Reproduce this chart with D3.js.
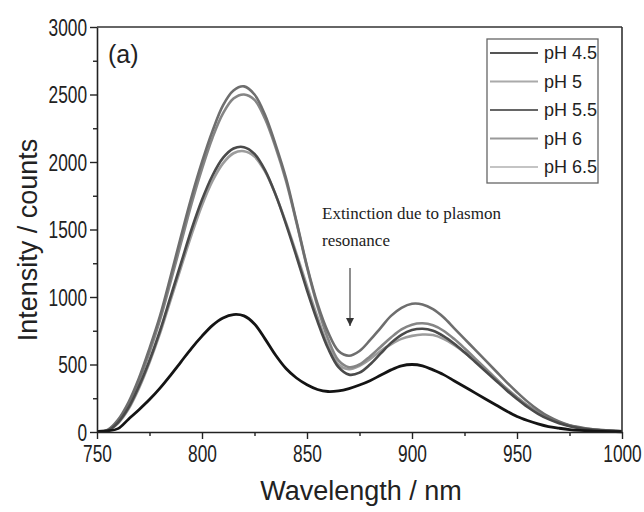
<!DOCTYPE html>
<html><head><meta charset="utf-8">
<script src="https://cdn.jsdelivr.net/npm/d3@7/dist/d3.min.js"></script>
<style>html,body{margin:0;padding:0;background:#fff;}svg{display:block;}</style>
</head><body>
<svg id="c" width="644" height="512"></svg>
<script>
const wavelengths = d3.range(750, 1001, 5);
const seriesNames = ["pH 4.5", "pH 5", "pH 5.5", "pH 6", "pH 6.5"];
const pH45 = [5,8,25,95,165,240,325,420,520,620,710,790,845,870,860,800,690,570,470,400,350,315,300,305,322,348,380,420,460,490,500,490,460,425,380,335,290,245,200,155,115,85,60,40,28,18,12,8,5,3,2];
const pH5 = [5,15,90,220,400,620,860,1150,1450,1740,2000,2230,2420,2530,2560,2500,2350,2130,1880,1560,1230,950,740,600,565,600,680,770,860,920,950,945,910,850,770,690,610,530,450,370,295,225,165,115,78,50,35,22,14,9,6];
const pH55 = [4,10,70,180,340,530,750,1000,1250,1500,1720,1900,2030,2100,2110,2060,1940,1760,1540,1300,1050,820,620,480,425,440,500,580,660,720,755,765,750,710,655,590,520,450,380,310,245,185,135,95,65,43,28,18,12,8,5];
const pH6 = [5,12,80,200,380,590,830,1110,1400,1690,1950,2180,2360,2470,2500,2460,2320,2110,1860,1550,1220,930,690,530,480,500,560,630,700,760,795,805,790,750,690,620,545,470,395,320,255,195,145,102,70,46,30,20,13,8,5];
const pH65 = [4,10,65,170,325,515,730,975,1220,1460,1680,1860,1990,2065,2080,2040,1930,1760,1550,1320,1080,850,640,500,465,490,540,600,650,690,712,722,718,690,645,590,525,458,390,322,258,198,148,105,72,48,32,21,14,9,6];
const xTicks = [750, 800, 850, 900, 950, 1000];
const yTicks = [0, 500, 1000, 1500, 2000, 2500, 3000];

const seriesValues = {"pH 4.5": pH45, "pH 5": pH5, "pH 5.5": pH55, "pH 6": pH6, "pH 6.5": pH65};
const curveColor = {"pH 4.5": "#141414", "pH 5": "#6e6e6e", "pH 5.5": "#4a4a4a", "pH 6": "#858585", "pH 6.5": "#9c9c9c"};
const legendColor = {"pH 4.5": "#555", "pH 5": "#aaa", "pH 5.5": "#666", "pH 6": "#999", "pH 6.5": "#c4c4c4"};
const drawOrder = ["pH 6.5", "pH 6", "pH 5", "pH 5.5", "pH 4.5"];

const L = 97, R = 622, T = 27, B = 432;
const svg = d3.select("#c");
const x = d3.scaleLinear().domain([750, 1000]).range([L, R]);
const y = d3.scaleLinear().domain([0, 3000]).range([B, T]);

const line = d3.line().x((d, i) => x(wavelengths[i])).y(d => y(d)).curve(d3.curveCatmullRom);
drawOrder.forEach(n => {
  svg.append("path").attr("d", line(seriesValues[n])).attr("fill", "none")
    .attr("stroke", curveColor[n]).attr("stroke-width", n === "pH 4.5" ? 2.8 : 2.6).attr("stroke-linejoin", "round");
});

const sx = 0.72;
const fmt = d3.format("d");
// x axis
const gx = svg.append("g").attr("transform", `translate(0,${B})`);
gx.call(d3.axisBottom(x).tickValues(d3.range(775, 1000, 50)).tickSize(4).tickFormat(""));
gx.call(g => g.select(".domain").remove());
const gx2 = svg.append("g").attr("transform", `translate(0,${B})`);
gx2.call(d3.axisBottom(x).tickValues(xTicks).tickFormat(fmt).tickSize(7).tickSizeOuter(0));
gx2.selectAll("text").attr("font-size", 24).attr("font-family", "Liberation Sans, Arial, sans-serif")
  .attr("fill", "#222").attr("transform", `scale(${sx},1)`).attr("dy", "0.72em").attr("y", 13);
gx2.select(".domain").attr("stroke", "#222").attr("stroke-width", 1.6);

// y axis
const gy = svg.append("g").attr("transform", `translate(${L},0)`);
gy.call(d3.axisLeft(y).tickValues(d3.range(250, 3000, 500)).tickSize(4).tickFormat(""));
gy.call(g => g.select(".domain").remove());
const gy2 = svg.append("g").attr("transform", `translate(${L},0)`);
gy2.call(d3.axisLeft(y).tickValues(yTicks).tickFormat(fmt).tickSize(7).tickSizeOuter(0));
gy2.selectAll("text").attr("font-size", 24).attr("font-family", "Liberation Sans, Arial, sans-serif")
  .attr("fill", "#222").attr("transform", `scale(${sx},1)`).attr("x", -10 / sx).attr("dy", "0.34em");
gy2.select(".domain").attr("stroke", "#222").attr("stroke-width", 1.6);
svg.selectAll(".tick line").attr("stroke", "#222").attr("stroke-width", 1.4);

// frame top and right
svg.append("line").attr("x1", L).attr("x2", R).attr("y1", T).attr("y2", T).attr("stroke", "#333").attr("stroke-width", 1.4);
svg.append("line").attr("x1", R).attr("x2", R).attr("y1", T).attr("y2", B).attr("stroke", "#333").attr("stroke-width", 1.6);

// titles
svg.append("text").attr("x", 361).attr("y", 500).attr("text-anchor", "middle")
  .attr("font-family", "Liberation Sans, Arial, sans-serif").attr("font-size", 27).attr("fill", "#222")
  .text("Wavelength / nm");
svg.append("text").attr("transform", "translate(37,240) rotate(-90)").attr("text-anchor", "middle")
  .attr("font-family", "Liberation Sans, Arial, sans-serif").attr("font-size", 27).attr("fill", "#222")
  .text("Intensity / counts");
svg.append("text").attr("x", 108).attr("y", 63)
  .attr("font-family", "Liberation Sans, Arial, sans-serif").attr("font-size", 25).attr("fill", "#222")
  .text("(a)");

// annotation
svg.append("text").attr("x", 322).attr("y", 219).attr("font-family", "Liberation Serif, Times New Roman, serif")
  .attr("font-size", 17).attr("fill", "#222").text("Extinction due to plasmon");
svg.append("text").attr("x", 322).attr("y", 246).attr("font-family", "Liberation Serif, Times New Roman, serif")
  .attr("font-size", 17).attr("fill", "#222").text("resonance");
svg.append("defs").append("marker").attr("id", "ah").attr("viewBox", "0 0 10 10").attr("refX", 10).attr("refY", 5)
  .attr("markerWidth", 8).attr("markerHeight", 8).attr("markerUnits", "userSpaceOnUse").attr("orient", "auto")
  .append("path").attr("d", "M0,0L10,5L0,10Z").attr("fill", "#333");
svg.append("line").attr("x1", 350).attr("x2", 350).attr("y1", 268).attr("y2", 326)
  .attr("stroke", "#444").attr("stroke-width", 1.2).attr("marker-end", "url(#ah)");

// legend
const lg = svg.append("g");
lg.append("rect").attr("x", 487).attr("y", 39).attr("width", 111).attr("height", 144)
  .attr("fill", "#fff").attr("stroke", "#666").attr("stroke-width", 1.3);
seriesNames.forEach((n, i) => {
  const yy = 53 + i * 28.5;
  lg.append("line").attr("x1", 490).attr("x2", 538).attr("y1", yy).attr("y2", yy)
    .attr("stroke", legendColor[n]).attr("stroke-width", 2);
  lg.append("text").attr("x", 544).attr("y", yy).attr("dy", "0.36em")
    .attr("font-family", "Liberation Sans, Arial, sans-serif").attr("font-size", 18).attr("fill", "#222").text(n);
});
</script>
</body></html>
